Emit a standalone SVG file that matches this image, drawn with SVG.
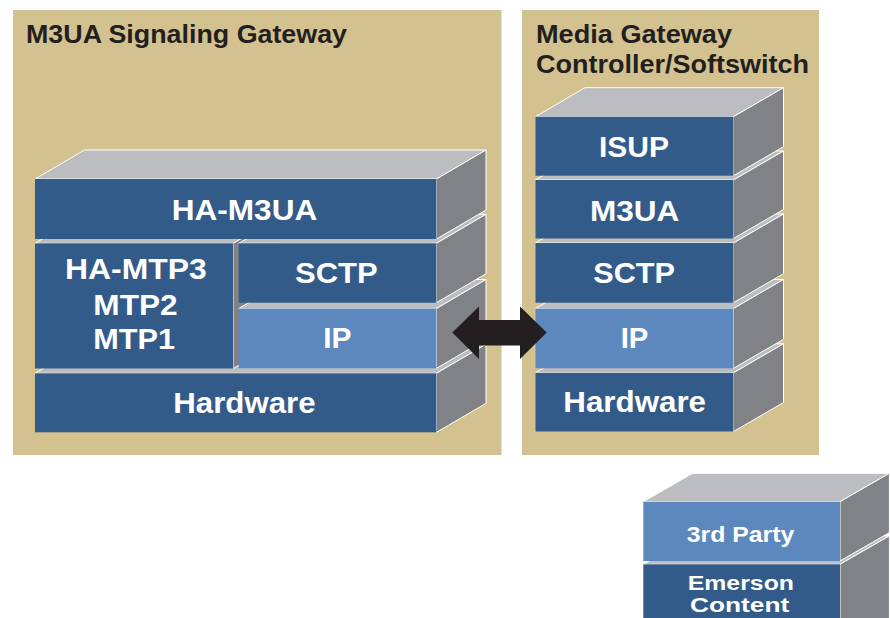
<svg xmlns="http://www.w3.org/2000/svg" width="890" height="618" viewBox="0 0 890 618">
<style>
.top{fill:#bcbdc0;stroke:#fff;stroke-width:1;stroke-linejoin:miter}
.side{fill:#808285;stroke:#fff;stroke-width:1}
.dk{fill:#335b89}
.lt{fill:#5d88bd}
.panel{fill:#d3c28f}
.lbl{font-family:"Liberation Sans",Arial,Helvetica,sans-serif;font-weight:bold;fill:#fff;font-size:30px}
.sm{font-size:22px}
.xs{font-size:20px}
.ttl{font-family:"Liberation Sans",Arial,Helvetica,sans-serif;font-weight:bold;fill:#231f20;font-size:25px}
</style>
<rect width="890" height="618" fill="#fff"/>
<g id="panel-sg">
<rect class="panel" x="13" y="10" width="488.5" height="445"/>
<text class="ttl" x="26" y="43" textLength="321" lengthAdjust="spacingAndGlyphs">M3UA Signaling Gateway</text>
</g>
<g id="panel-mgc">
<rect class="panel" x="522" y="10" width="297" height="445"/>
<text class="ttl" x="536" y="43" textLength="196" lengthAdjust="spacingAndGlyphs">Media Gateway</text>
<text class="ttl" x="536" y="73" textLength="273" lengthAdjust="spacingAndGlyphs">Controller/Softswitch</text>
</g>
<g id="sg-hardware">
<polygon class="top" points="35,373.3 84.5,344.3 486,344.3 436.5,373.3"/>
<polygon class="side" points="436.5,373.3 486,344.3 486,403.3 436.5,432.3"/>
<rect class="dk" x="35" y="373.3" width="401.5" height="59"/>
<text class="lbl" x="173.3" y="413.3" textLength="142.3" lengthAdjust="spacingAndGlyphs">Hardware</text>
</g>
<g id="sg-mtp">
<polygon class="top" points="35,243.3 84.5,214.3 282.8,214.3 233.3,243.3"/>
<polygon class="side" points="233.3,243.3 282.8,214.3 282.8,339.5 233.3,368.5"/>
<rect class="dk" x="35" y="243.3" width="198.3" height="125.2"/>
<text class="lbl" x="65" y="279.3" textLength="141.7" lengthAdjust="spacingAndGlyphs">HA-MTP3</text>
<text class="lbl" x="93.3" y="315" textLength="84.3" lengthAdjust="spacingAndGlyphs">MTP2</text>
<text class="lbl" x="93.3" y="349.3" textLength="81.7" lengthAdjust="spacingAndGlyphs">MTP1</text>
</g>
<g id="sg-ip">
<polygon class="top" points="238.7,308.5 288.2,279.5 486,279.5 436.5,308.5"/>
<polygon class="side" points="436.5,308.5 486,279.5 486,339.3 436.5,368.3"/>
<rect class="lt" x="238.7" y="308.5" width="197.8" height="59.8"/>
<text class="lbl" x="323.3" y="348.3" textLength="28.3" lengthAdjust="spacingAndGlyphs">IP</text>
</g>
<g id="sg-sctp">
<polygon class="top" points="238.7,243.3 288.2,214.3 486,214.3 436.5,243.3"/>
<polygon class="side" points="436.5,243.3 486,214.3 486,273.7 436.5,302.7"/>
<rect class="dk" x="238.7" y="243.3" width="197.8" height="59.4"/>
<text class="lbl" x="295" y="283.3" textLength="82.7" lengthAdjust="spacingAndGlyphs">SCTP</text>
</g>
<g id="sg-ha-m3ua">
<polygon class="top" points="35,179 84.5,150 486,150 436.5,179"/>
<polygon class="side" points="436.5,179 486,150 486,210 436.5,239"/>
<rect class="dk" x="35" y="179" width="401.5" height="60"/>
<text class="lbl" x="171.7" y="220" textLength="145.6" lengthAdjust="spacingAndGlyphs">HA-M3UA</text>
</g>
<g id="mgc-hardware">
<polygon class="top" points="535.5,372.8 585,343.8 783.5,343.8 733.5,372.8"/>
<polygon class="side" points="733.5,372.8 783.5,343.8 783.5,402.5 733.5,431.5"/>
<rect class="dk" x="535.5" y="372.8" width="198" height="58.7"/>
<text class="lbl" x="563.3" y="411.7" textLength="142.7" lengthAdjust="spacingAndGlyphs">Hardware</text>
</g>
<g id="mgc-ip">
<polygon class="top" points="535.5,308.5 585,279.5 783.5,279.5 733.5,308.5"/>
<polygon class="side" points="733.5,308.5 783.5,279.5 783.5,339.3 733.5,368.3"/>
<rect class="lt" x="535.5" y="308.5" width="198" height="59.8"/>
<text class="lbl" x="620.7" y="348.3" textLength="27.7" lengthAdjust="spacingAndGlyphs">IP</text>
</g>
<g id="mgc-sctp">
<polygon class="top" points="535.5,243 585,214 783.5,214 733.5,243"/>
<polygon class="side" points="733.5,243 783.5,214 783.5,273.7 733.5,302.7"/>
<rect class="dk" x="535.5" y="243" width="198" height="59.7"/>
<text class="lbl" x="593.3" y="283.3" textLength="81.7" lengthAdjust="spacingAndGlyphs">SCTP</text>
</g>
<g id="mgc-m3ua">
<polygon class="top" points="535.5,180 585,151 783.5,151 733.5,180"/>
<polygon class="side" points="733.5,180 783.5,151 783.5,209.5 733.5,238.5"/>
<rect class="dk" x="535.5" y="180" width="198" height="58.5"/>
<text class="lbl" x="590" y="221" textLength="89.3" lengthAdjust="spacingAndGlyphs">M3UA</text>
</g>
<g id="mgc-isup">
<polygon class="top" points="535.5,116.7 585,87.7 783.5,87.7 733.5,116.7"/>
<polygon class="side" points="733.5,116.7 783.5,87.7 783.5,146.7 733.5,175.7"/>
<rect class="dk" x="535.5" y="116.7" width="198" height="59"/>
<text class="lbl" x="599" y="156.7" textLength="70" lengthAdjust="spacingAndGlyphs">ISUP</text>
</g>
<g id="legend-emerson">
<polygon class="top" points="643.3,564.3 692.7,535.9 889.4,535.9 840,564.3"/>
<polygon class="side" points="840,564.3 889.4,535.9 889.4,630 840,630"/>
<rect class="dk" x="643.3" y="564.3" width="196.7" height="70"/>
<text class="lbl xs" x="687.7" y="589.5" textLength="106.3" lengthAdjust="spacingAndGlyphs">Emerson</text>
<text class="lbl xs" x="690" y="612.3" textLength="99.3" lengthAdjust="spacingAndGlyphs">Content</text>
</g>
<g id="legend-3rd-party">
<polygon class="top" points="643.3,501.7 692.7,473.3 889.4,473.3 840,501.7"/>
<polygon class="side" points="840,501.7 889.4,473.3 889.4,532.6 840,561"/>
<rect class="lt" x="643.3" y="501.7" width="196.7" height="59.3"/>
<text class="lbl sm" x="686.7" y="541.7" textLength="107.6" lengthAdjust="spacingAndGlyphs">3rd Party</text>
</g>
<g id="connectors">
<polygon fill="#231f20" points="452.3,332.5 479,306.5 479,320 520,320 520,306.5 546.7,332.5 520,359 520,345.5 479,345.5 479,359"/>
</g>
</svg>
